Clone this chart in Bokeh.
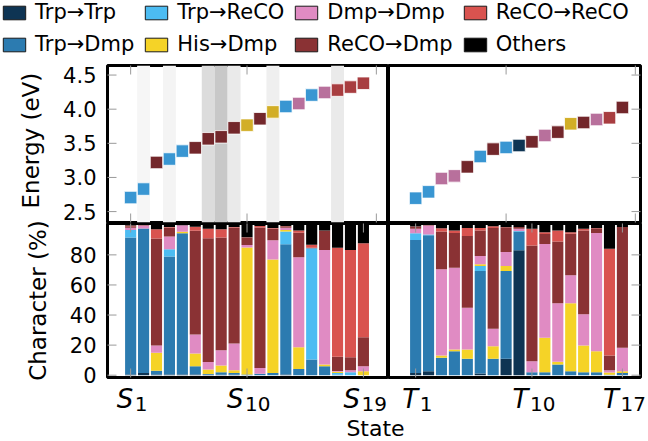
import math
from bokeh.plotting import figure
from bokeh.models import Range1d, Legend, LegendItem, ColumnDataSource
from bokeh.core.properties import value
from bokeh.layouts import column, row
from bokeh.embed import file_html
from bokeh.resources import INLINE

FONT = "DejaVu Sans"

# ---------------- data ----------------
categories = ["Trp→Trp", "Trp→Dmp", "Trp→ReCO", "His→Dmp",
              "Dmp→Dmp", "ReCO→Dmp", "ReCO→ReCO", "Others"]
cat_keys = ["tt", "td", "tr", "hd", "dd", "rd", "rr", "ot"]
cat_colors = ["#0e3453", "#2c7bb0", "#4cbcf2", "#f5d327",
              "#e08bc3", "#8a3234", "#d9534f", "#000000"]
marker_colors = ["#0e3453", "#3996d2", "#3996d2", "#d2ae27",
                 "#b8709c", "#73272b", "#a83d40", "#000000"]
legend_order = ["Trp→Trp", "Trp→ReCO", "Dmp→Dmp", "ReCO→ReCO",
                "Trp→Dmp", "His→Dmp", "ReCO→Dmp", "Others"]

singlet_states = list(range(1, 20))
singlet_ticks = [1, 10, 19]
singlet_top_ticks = [1, 10, 20]
singlet_energy = [2.705, 2.83, 3.22, 3.27, 3.386, 3.434, 3.566, 3.595, 3.727, 3.766,
                  3.86, 3.96, 4.04, 4.083, 4.207, 4.245, 4.28, 4.324, 4.38]
singlet_shade = [0, 0.04, 0, 0.05, 0, 0, 0.15, 0.24, 0.09, 0,
                 0, 0.07, 0, 0, 0, 0, 0.09, 0, 0]

s_tt = [0.5, 1.5, 0.5, 0.5, 0.5, 0.5, 0.3, 0.3, 0.3, 0, 0, 0, 0.5, 0, 0, 0, 0, 0, 0]
s_td = [91, 96, 2.5, 78.4, 93.9, 5.5, 0.5, 1.7, 1.2, 0.5, 1, 1.5, 86.6, 4.2, 10.4, 6, 0.3, 0, 0]
s_tr = [5, 0, 0, 4.9, 0, 0, 0, 0, 0, 0, 0, 0, 8.5, 0, 74, 0, 1.2, 2, 0]
s_hd = [0, 0, 12, 0, 0.9, 8.4, 3, 4.4, 1.8, 84.4, 0, 75.5, 1, 14.4, 0, 1.1, 0.8, 0, 2.7]
s_dd = [1.5, 2, 4.7, 8.4, 4.4, 12.7, 4.9, 10.2, 17.8, 1.6, 3.8, 12.7, 1.5, 59.9, 0, 76.2, 0.5, 1.3, 3.3]
s_rd = [1, 0.3, 71.2, 6, 0, 68.9, 82.4, 74.9, 77.1, 5.1, 93.4, 7.8, 0.5, 16.2, 0.3, 12.9, 9.5, 8.7, 19.3]
s_rr = [0.5, 0, 6.2, 0.3, 0, 2.7, 6.2, 5.6, 0.3, 0.2, 1, 0.3, 0.4, 1.5, 2, 0, 72.5, 71.3, 62.5]
s_ot = [0.5, 0.2, 2.9, 1.5, 0.3, 1.3, 2.7, 2.9, 1.5, 8.2, 0.8, 2.2, 1, 3.8, 13.3, 3.8, 15.2, 16.7, 12.2]

triplet_states = list(range(1, 18))
triplet_ticks = [1, 10, 17]
triplet_top_ticks = [8, 18]
triplet_energy = [2.696, 2.789, 2.984, 3.023, 3.155, 3.307, 3.415, 3.44, 3.468,
                  3.522, 3.615, 3.664, 3.786, 3.805, 3.849, 3.874, 4.025]

t_tt = [1.5, 2.7, 0, 0, 0, 1.1, 0, 10.9, 83.1, 0, 0, 0, 0, 0, 0, 0, 0]
t_td = [88.4, 90.3, 11.6, 16, 10.9, 68.2, 10.9, 58.4, 12.4, 2, 2, 7.1, 2.7, 2, 2, 0.3, 1.5]
t_tr = [4.4, 0.5, 0, 0, 0, 3.3, 0, 0, 0.3, 0, 0, 0, 0, 0, 0, 0, 0]
t_hd = [0, 0, 1.5, 1.1, 6.2, 1.1, 8.4, 3.3, 0, 0, 22.9, 1.8, 45.1, 17.8, 14, 1.5, 1.1]
t_dd = [3.1, 6, 57.3, 54.4, 27.8, 5.6, 11.6, 9.3, 1.5, 7.3, 62.3, 38.9, 18.7, 20.7, 78.6, 1.5, 15.6]
t_rd = [1.1, 0.3, 25.1, 23.1, 47.6, 16.9, 66.9, 15.9, 1.2, 76.9, 6.7, 41.1, 27.5, 55.7, 3.1, 9.8, 80.3]
t_rr = [0.4, 0, 2.2, 1.6, 5.3, 1.6, 1.3, 0.5, 0, 11.1, 1.2, 7.3, 1.1, 1.1, 0.1, 70.9, 0]
t_ot = [1.1, 0.2, 2.3, 3.8, 2.2, 2.2, 0.9, 1.7, 1.5, 2.7, 4.9, 3.8, 4.9, 2.7, 2.2, 16, 1.5]

energy_ticks = [2.5, 3.0, 3.5, 4.0, 4.5]
energy_tick_labels = ["2.5", "3.0", "3.5", "4.0", "4.5"]
char_ticks = [0, 20, 40, 60, 80]
char_tick_labels = ["0", "20", "40", "60", "80"]

singlet_parts = [s_tt, s_td, s_tr, s_hd, s_dd, s_rd, s_rr, s_ot]
triplet_parts = [t_tt, t_td, t_tr, t_hd, t_dd, t_rd, t_rr, t_ot]

# ---------------- layout constants (pixels) ----------------
TICK_COLOR = "#9a9a9a"
TICK_LEN = 9

E_RANGE = (2.34, 4.64)
C_RANGE = (-1.53, 100.86)
S_XRANGE = (-0.79, 20.94)
T_XRANGE = (-1.1, 18.4)

LEFT_W = 105          # label column
FRAME_L_W = 281       # left panels frame width
FRAME_R_W = 252       # right panels frame width
TOP_FRAME_H = 157
BOT_FRAME_H = 154
TOP_Y0 = 63           # top of panel block on page
TOP_FRAME_Y = 65
BOT_FRAME_Y = 223
LABEL_BLOCK_H = 352

PPS = FRAME_L_W / (S_XRANGE[1] - S_XRANGE[0])
PPT = FRAME_R_W / (T_XRANGE[1] - T_XRANGE[0])
PPE = TOP_FRAME_H / (E_RANGE[1] - E_RANGE[0])
PPC = BOT_FRAME_H / (C_RANGE[1] - C_RANGE[0])


def bare(width, height, xr, yr, mbl=0, mbr=0, mbt=0, mbb=0):
    p = figure(width=width, height=height, x_range=Range1d(*xr), y_range=Range1d(*yr),
               toolbar_location=None, output_backend="svg", tools="",
               x_axis_location=None, y_axis_location=None,
               min_border_left=mbl, min_border_right=mbr,
               min_border_top=mbt, min_border_bottom=mbb)
    p.grid.visible = False
    p.outline_line_color = None
    p.background_fill_color = "white"
    p.border_fill_color = "white"
    return p


def panel(width, height, xr, yr, mbl, mbr, mbt, mbb):
    p = bare(width, height, xr, yr, mbl, mbr, mbt, mbb)
    p.outline_line_color = "black"
    p.outline_line_width = 3
    p.outline_line_alpha = 1
    return p


def edge_ticks(p, xs=None, ys=None, at_x=None, at_y=None):
    # tick marks pointing inward from the frame edge (outer half clipped by the frame)
    if xs is not None:
        p.scatter(x=xs, y=[at_y] * len(xs), marker="dash", angle=math.pi / 2,
                  size=2 * TICK_LEN, line_color=TICK_COLOR, line_width=1)
    if ys is not None:
        p.scatter(x=[at_x] * len(ys), y=ys, marker="dash", angle=0,
                  size=2 * TICK_LEN, line_color=TICK_COLOR, line_width=1)


def state_labels(p, letter, ticks, range_name="default"):
    offs = [2.5 - 6 * (len(str(t)) - 1) for t in ticks]
    src = ColumnDataSource(dict(x=ticks, main=[letter] * len(ticks),
                                sub=[str(t) for t in ticks], off=offs,
                                off2=[o + 1.5 for o in offs],
                                y1=[17] * len(ticks), y2=[12] * len(ticks)))
    p.text(x="x", y="y1", text="main", x_offset="off", source=src,
           x_range_name=range_name, text_align="right", text_baseline="middle",
           text_font=value(FONT), text_font_style="italic",
           text_font_size="26px", text_color="black")
    p.text(x="x", y="y2", text="sub", x_offset="off2", source=src,
           x_range_name=range_name, text_align="left", text_baseline="middle",
           text_font=value(FONT), text_font_size="20px", text_color="black")


def dominant_colors(parts):
    out = []
    for i in range(len(parts[0])):
        vals = [pp[i] for pp in parts]
        out.append(marker_colors[vals.index(max(vals))])
    return out


def gray(level):
    g = int(round(255 - 230 * level))
    return "#%02x%02x%02x" % (g, g, g)


# ---------------- sources ----------------
src_s = ColumnDataSource(dict(x=singlet_states, **{k: v for k, v in zip(cat_keys, singlet_parts)}))
src_t = ColumnDataSource(dict(x=triplet_states, **{k: v for k, v in zip(cat_keys, triplet_parts)}))
src_se = ColumnDataSource(dict(x=singlet_states, e=singlet_energy,
                               c=dominant_colors(singlet_parts)))
src_te = ColumnDataSource(dict(x=triplet_states, e=triplet_energy,
                               c=dominant_colors(triplet_parts)))

# ---------------- legend figure ----------------
lf = bare(646, TOP_Y0, (0, 1), (0, 1))
items = []
for name in legend_order:
    i = categories.index(name)
    r = lf.vbar(x="x", top=cat_keys[i], width=0.86, source=src_s,
                fill_color=cat_colors[i], line_color="#1a1a1a", line_width=1)
    r.visible = False
    items.append(LegendItem(label=name, renderers=[r]))
legend = Legend(items=items, orientation="horizontal", ncols=4, location="top_left",
                margin=0, padding=2, spacing=8, glyph_width=28, glyph_height=17,
                label_standoff=7, label_text_font=FONT, label_text_font_size="21px",
                label_text_color="black", border_line_color=None,
                background_fill_alpha=0, inactive_fill_alpha=0)
lf.add_layout(legend)

# ---------------- top panels ----------------
tl = panel(FRAME_L_W + 2, 160, S_XRANGE, E_RANGE, 2, 0, 2, 1)
tr = panel(FRAME_R_W + 6, 160, T_XRANGE, E_RANGE, 0, 6, 2, 1)

shade_x = [s for s, v in zip(singlet_states, singlet_shade) if v > 0]
shade_c = [gray(v) for v in singlet_shade if v > 0]
tl.vbar(x=shade_x, width=1.0, bottom=E_RANGE[0], top=E_RANGE[1],
        fill_color=shade_c, line_color=None)

for p, src in ((tl, src_se), (tr, src_te)):
    p.scatter(x="x", y="e", source=src, marker="square", size=12.5,
              fill_color="c", line_color="white", line_width=0.8)

edge_ticks(tl, ys=energy_ticks, at_x=S_XRANGE[0])
edge_ticks(tl, xs=singlet_top_ticks, at_y=E_RANGE[1])
edge_ticks(tl, xs=singlet_top_ticks, at_y=E_RANGE[0])
edge_ticks(tr, xs=triplet_top_ticks, at_y=E_RANGE[1])
edge_ticks(tr, xs=triplet_top_ticks, at_y=E_RANGE[0])
edge_ticks(tr, ys=energy_ticks, at_x=T_XRANGE[1])

# ---------------- bottom panels ----------------
bl = panel(FRAME_L_W + 2, 156, S_XRANGE, C_RANGE, 2, 0, 0, 2)
br = panel(FRAME_R_W + 6, 156, T_XRANGE, C_RANGE, 0, 6, 0, 2)

bl.vbar_stack(cat_keys, x="x", width=0.86, fill_color=cat_colors, line_color=None, source=src_s)
br.vbar_stack(cat_keys, x="x", width=0.86, fill_color=cat_colors, line_color=None, source=src_t)

edge_ticks(bl, ys=char_ticks, at_x=S_XRANGE[0])
edge_ticks(bl, xs=singlet_ticks, at_y=C_RANGE[1])
edge_ticks(bl, xs=singlet_ticks, at_y=C_RANGE[0])
edge_ticks(br, xs=triplet_ticks, at_y=C_RANGE[1])
edge_ticks(br, xs=triplet_ticks, at_y=C_RANGE[0])
edge_ticks(br, ys=char_ticks, at_x=T_XRANGE[1])

# ---------------- y tick labels & titles (label column sharing the panel scales) ----------------
ll_bottom = TOP_Y0 + LABEL_BLOCK_H
ll = bare(LEFT_W, LABEL_BLOCK_H, (0, LEFT_W),
          (E_RANGE[1] - (ll_bottom - TOP_FRAME_Y) / PPE,
           E_RANGE[1] + (TOP_FRAME_Y - TOP_Y0) / PPE))
ll.extra_y_ranges = {"c": Range1d(C_RANGE[1] - (ll_bottom - BOT_FRAME_Y) / PPC,
                                  C_RANGE[1] + (BOT_FRAME_Y - TOP_Y0) / PPC)}
LABEL_X = LEFT_W - 9
ll.text(x=[LABEL_X] * len(energy_ticks), y=energy_ticks, text=energy_tick_labels,
        text_align="right", text_baseline="middle", text_font=value(FONT),
        text_font_size="21px", text_color="black")
ll.text(x=[LABEL_X] * len(char_ticks), y=char_ticks, text=char_tick_labels,
        y_range_name="c", text_align="right", text_baseline="middle",
        text_font=value(FONT), text_font_size="21px", text_color="black")
ll.text(x=[30], y=[(E_RANGE[0] + E_RANGE[1]) / 2 + 0.05], text=["Energy (eV)"],
        angle=math.pi / 2, text_align="center", text_baseline="middle",
        text_font=value(FONT), text_font_size="23px", text_color="black")
ll.text(x=[37], y=[(C_RANGE[0] + C_RANGE[1]) / 2], text=["Character (%)"],
        y_range_name="c", angle=math.pi / 2, text_align="center", text_baseline="middle",
        text_font=value(FONT), text_font_size="23px", text_color="black")

# ---------------- state tick labels (strip under both panels) ----------------
SB_W = FRAME_L_W + 2 + FRAME_R_W + 6
sb = bare(SB_W, 36, (S_XRANGE[0] - 2 / PPS, S_XRANGE[0] + (SB_W - 2) / PPS), (0, 36))
sb.extra_x_ranges = {"t": Range1d(T_XRANGE[0] - (FRAME_L_W + 2) / PPT,
                                  T_XRANGE[0] + (FRAME_R_W + 6) / PPT)}
state_labels(sb, "S", singlet_ticks)
state_labels(sb, "T", triplet_ticks, "t")

# ---------------- x-axis title ----------------
sf = bare(646, 26, (0, 646), (0, 26))
sf.text(x=[375], y=[13], text=["State"], text_align="center", text_baseline="middle",
        text_font=value(FONT), text_font_size="22px", text_color="black")

layout = column(lf,
                row(ll, column(row(tl, tr), row(bl, br), sb)),
                sf)

open("out.html", "w").write(file_html(layout, INLINE))
